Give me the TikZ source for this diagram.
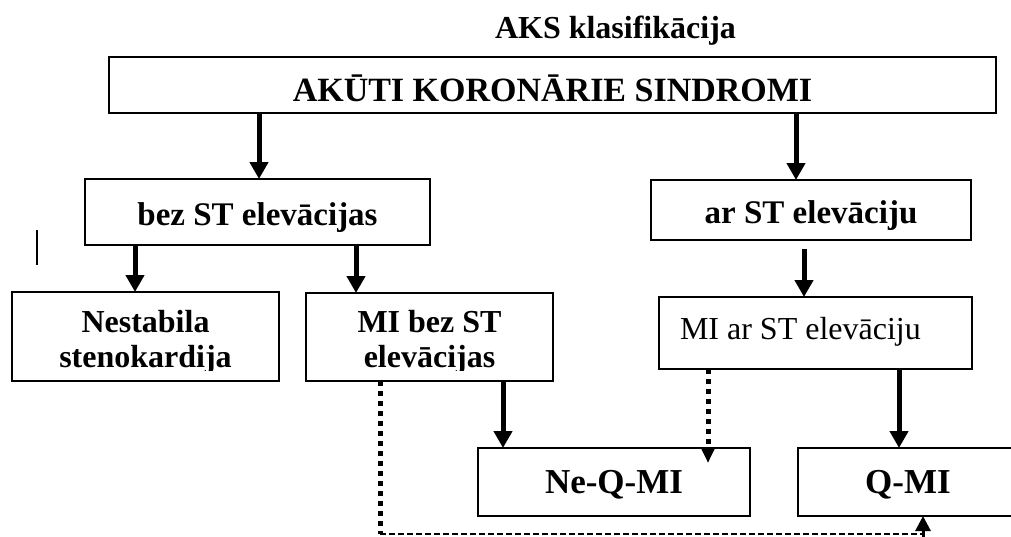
\documentclass[tikz,border=0pt]{standalone}
\usepackage{fontspec}
\setmainfont{Liberation Serif}
\usetikzlibrary{arrows.meta,calc}

\begin{document}
\begin{tikzpicture}[x=1pt,y=-1pt,
  box/.style={draw, line width=2pt, inner sep=0pt, outer sep=0pt},
  txt/.style={anchor=base, inner sep=0pt, outer sep=0pt, font=\fontsize{32}{35}\selectfont\bfseries},
  big/.style={font=\fontsize{34}{38}\selectfont\bfseries},
  arr/.style={line width=5pt, -{Triangle[length=17pt,width=18pt]}},
  dotarr/.style={line width=5pt, dash pattern=on 5pt off 5pt, -{Triangle[length=15pt,width=13pt]}},
  dotline/.style={line width=5pt, dash pattern=on 5pt off 5pt},
  thindash/.style={line width=2pt, dash pattern=on 6pt off 3pt},
  uparr/.style={line width=3pt, -{Triangle[length=15pt,width=15pt]}}
]
% page
\fill[white] (0,0) rectangle (1011,536);
\useasboundingbox (0,0) rectangle (1011,536);

% heading
\node[txt, anchor=base west] (title) at (495,38) {AKS klasifikācija};

% boxes
\node[box, minimum width=887pt, minimum height=56pt] (aks) at (552.5,85) {};
\node[box, minimum width=345pt, minimum height=66pt] (bez) at (257.5,212) {};
\node[box, minimum width=320pt, minimum height=60pt] (ar)  at (811,210) {};
\node[box, minimum width=267pt, minimum height=89pt] (nest) at (145.5,336.5) {};
\node[box, minimum width=247pt, minimum height=88pt] (mib) at (429.5,337) {};
\node[box, minimum width=313pt, minimum height=72pt] (mia) at (815.5,333) {};
\node[box, minimum width=272pt, minimum height=68pt] (neq) at (614,482) {};
\node[box, minimum width=220pt, minimum height=68pt] (qmi) at (908,482) {};

% box texts
\node[txt, big] (aksT) at (552.5,101) {AKŪTI KORONĀRIE SINDROMI};
\node[txt, font=\fontsize{33}{36}\selectfont\bfseries] (bezT) at (257.5,225) {bez ST elevācijas};
\node[txt, font=\fontsize{33}{36}\selectfont\bfseries] (arT) at (811,223) {ar ST elevāciju};
\begin{scope}
  \clip (0,280) rectangle (600,370);
  \node[txt] (nestA) at (145.5,332) {Nestabila};
  \node[txt] (nestB) at (145.5,367) {stenokardija};
  \node[txt] (mibA) at (429.5,332) {MI bez ST};
  \node[txt] (mibB) at (429.5,367) {elevācijas};
\end{scope}
\node[txt, anchor=base west, font=\fontsize{32}{35}\selectfont] (miaT) at (680,339) {MI ar ST elevāciju};
\node[txt, font=\fontsize{35}{38}\selectfont\bfseries] (neqT) at (614,493) {Ne-Q-MI};
\node[txt, font=\fontsize{35}{38}\selectfont\bfseries] (qmiT) at (908,493) {Q-MI};

% connector columns
\coordinate (c1) at (259,0);
\coordinate (c2) at (796,0);
\coordinate (c3) at (135,0);
\coordinate (c4) at (356,0);
\coordinate (c5) at (804,0);
\coordinate (c6) at (503,0);
\coordinate (c7) at (708,0);
\coordinate (c8) at (899,0);
\coordinate (c9) at (380,0);
\coordinate (c10) at (923,0);
\coordinate (turnA) at (380,534);
\coordinate (turnB) at (923,534);
\coordinate (tail) at (923,537);

% connectors
\draw[arr] (aks.south -| c1) -- (bez.north -| c1);
\draw[arr] (aks.south -| c2) -- (ar.north -| c2);
\draw[arr] (bez.south -| c3) -- (nest.north -| c3);
\draw[arr] (bez.south -| c4) -- (mib.north -| c4);
\draw[arr, shorten <=9pt] (ar.south -| c5) -- (mia.north -| c5);
\draw[arr] (mib.south -| c6) -- (neq.north -| c6);
\draw[arr] (mia.south -| c8) -- (qmi.north -| c8);
\draw[dotarr] (mia.south -| c7) -- ($(neq.north -| c7)+(0,15)$);
\draw[dotline] (mib.south -| c9) -- (turnA);
\draw[thindash] (turnA) -- (turnB);
\draw[uparr] (tail) -- (qmi.south -| c10);

% stray mark at the left margin
\draw[line width=1.5pt] (37,230) -- (37,265);
\end{tikzpicture}
\end{document}
